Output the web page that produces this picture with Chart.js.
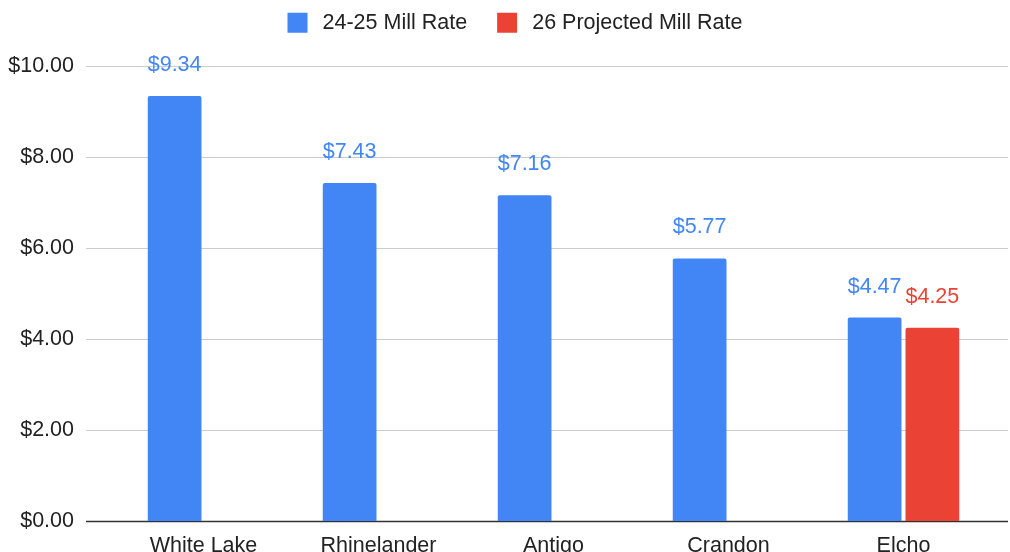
<!DOCTYPE html>
<html lang="en">
  <head>
    <meta charset="UTF-8" />
    <title>Mill Rate Comparison</title>
    <script src="https://cdn.jsdelivr.net/npm/chart.js"></script>
    <style>
      html, body { margin: 0; padding: 0; background: #fff; overflow: hidden; }
      canvas { display: block; }
    </style>
  </head>
  <body>
    <canvas id="chart" width="1010" height="552"></canvas>
    <script>
      const categories = ["White Lake", "Rhinelander", "Antigo", "Crandon", "Elcho"];
      const rate2425 = [9.34, 7.43, 7.16, 5.77, 4.47];
      const rate26 = [null, null, null, null, 4.25];
      const yTicks = [0, 2, 4, 6, 8, 10];

      const BLUE = "#4285F4";
      const RED = "#EA4335";
      const FONT = "'Liberation Sans', Arial, sans-serif";
      const FS = 21.5;

      // grid lines run wider than the bar area, like the original sheet chart
      const gridPlugin = {
        id: "sheetGrid",
        beforeDatasetsDraw(chart) {
          const ctx = chart.ctx;
          const y = chart.scales.y;
          ctx.save();
          yTicks.forEach((v) => {
            const py = Math.round(y.getPixelForValue(v)) + 0.5;
            ctx.beginPath();
            ctx.strokeStyle = v === 0 ? "#333333" : "#cccccc";
            ctx.lineWidth = v === 0 ? 1.3 : 1;
            ctx.moveTo(86, py);
            ctx.lineTo(chart.width - 2, py);
            ctx.stroke();
          });
          ctx.restore();
        },
      };

      const valueLabels = {
        id: "valueLabels",
        afterDatasetsDraw(chart) {
          const ctx = chart.ctx;
          ctx.save();
          ctx.font = FS + "px " + FONT;
          ctx.textAlign = "center";
          ctx.textBaseline = "alphabetic";
          chart.data.datasets.forEach((ds, i) => {
            const meta = chart.getDatasetMeta(i);
            meta.data.forEach((bar, j) => {
              const v = ds.data[j];
              if (v == null) return;
              ctx.fillStyle = ds.backgroundColor;
              ctx.fillText("$" + v.toFixed(2), bar.x, bar.y - 25);
            });
          });
          ctx.restore();
        },
      };

      // fixed legend band height, legend nudged to sit where the sheet puts it
      const legendTweak = {
        id: "legendTweak",
        beforeLayout(chart) {
          const lg = chart.legend;
          if (!lg || lg._patched) return;
          const fit = lg.fit;
          lg.fit = function () {
            fit.call(this);
            this.height = 66;
          };
          const draw = lg.draw;
          lg.draw = function () {
            const c = this.ctx;
            c.save();
            c.translate(19.5, -18);
            draw.call(this);
            c.restore();
          };
          lg._patched = true;
        },
      };

      new Chart(document.getElementById("chart"), {
        type: "bar",
        data: {
          labels: categories,
          datasets: [
            {
              label: "24-25 Mill Rate",
              data: rate2425,
              backgroundColor: BLUE,
              borderRadius: 2,
              borderSkipped: "bottom",
            },
            {
              label: "26 Projected Mill Rate",
              data: rate26,
              backgroundColor: RED,
              borderRadius: 2,
              borderSkipped: "bottom",
            },
          ],
        },
        options: {
          responsive: false,
          animation: false,
          categoryPercentage: 0.66,
          barPercentage: 0.93,
          layout: { padding: { left: 0, right: 19, top: 0, bottom: 0 } },
          plugins: {
            legend: {
              position: "top",
              labels: {
                boxWidth: 20,
                boxHeight: 20,
                padding: 30,
                color: "#222",
                font: { family: FONT, size: FS },
                generateLabels(chart) {
                  const items = Chart.defaults.plugins.legend.labels.generateLabels(chart);
                  items.forEach((it) => (it.text = "\u2009" + it.text));
                  return items;
                },
              },
            },
            tooltip: { enabled: false },
          },
          scales: {
            x: {
              grid: { display: false, drawTicks: false },
              border: { display: false },
              afterFit(axis) {
                axis.height = 31;
              },
              ticks: {
                color: "#222",
                padding: 12,
                font: { family: FONT, size: FS },
              },
            },
            y: {
              min: 0,
              max: 10,
              afterBuildTicks(axis) {
                axis.ticks = yTicks.map((v) => ({ value: v }));
              },
              grid: { display: false, drawTicks: false },
              border: { display: false },
              afterFit(axis) {
                axis.width = 116;
                axis.paddingTop = 12;
                axis.paddingBottom = 12;
              },
              ticks: {
                color: "#222",
                padding: 42,
                font: { family: FONT, size: FS },
                callback: (v) => "$" + Number(v).toFixed(2),
              },
            },
          },
        },
        plugins: [gridPlugin, valueLabels, legendTweak],
      });
    </script>
  </body>
</html>
